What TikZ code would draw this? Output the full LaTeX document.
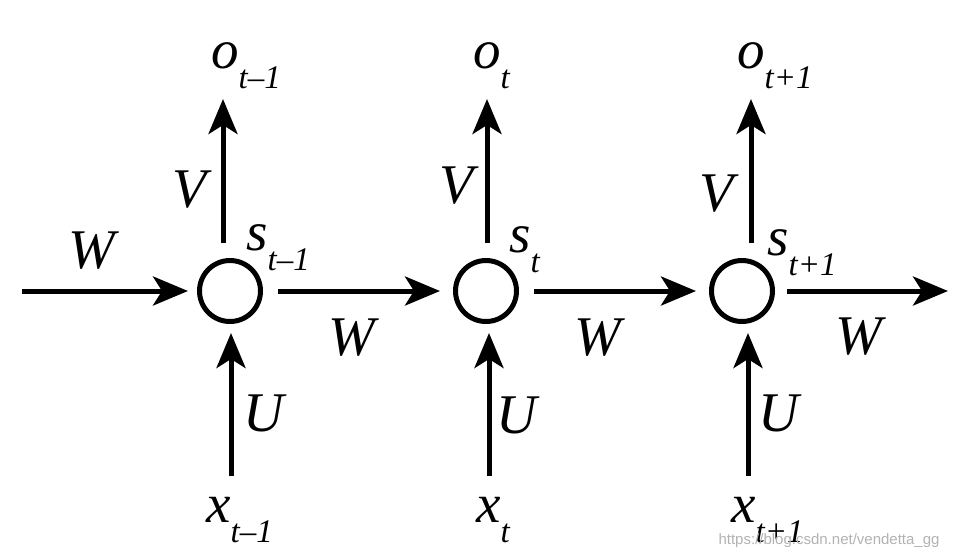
\documentclass[tikz,border=0pt]{standalone}
\usepackage{fontspec}
\setmainfont{Liberation Serif}
\newfontfamily\wmfont{Liberation Sans}
\usetikzlibrary{arrows.meta,calc}
\newcommand\lab[2]{\fontsize{55}{55}\selectfont\itshape #1\raisebox{-20pt}{\fontsize{33}{33}\selectfont\itshape #2}}
\tikzset{
  arr/.style={line width=5pt,-{Stealth[length=35pt,width=29pt,inset=9pt]}},
  cell/.style={circle,draw,line width=5pt,minimum size=61pt,inner sep=0pt},
  big/.style={inner sep=0pt,font=\fontsize{56}{56}\selectfont\itshape},
  sub/.style={inner sep=0pt,anchor=base west},
}
\begin{document}
\begin{tikzpicture}[x=1pt,y=-1pt]
\useasboundingbox (0,0) rectangle (953,558);
% cells
\node[cell] (s1) at (230,291) {};
\node[cell] (s2) at (486,291) {};
\node[cell] (s3) at (742,291) {};
% state labels
\node[sub] (ls1) at (246,250) {\lab{s}{t–1}};
\node[sub] (ls2) at (509,252) {\lab{s}{t}};
\node[sub] (ls3) at (767,255) {\lab{s}{t+1}};
% outputs
\node[sub] (o1) at (211,68) {\lab{o}{t–1}};
\node[sub] (o2) at (473,68) {\lab{o}{t}};
\node[sub] (o3) at (737,68) {\lab{o}{t+1}};
% inputs
\node[sub] (x1) at (206,522) {\lab{x}{t–1}};
\node[sub] (x2) at (476,522) {\lab{x}{t}};
\node[sub] (x3) at (731,522) {\lab{x}{t+1}};
% weight labels
\node[big] (w0) at (92,251) {W};
\node[big] (w1) at (352,338) {W};
\node[big] (w2) at (598,338) {W};
\node[big] (w3) at (859,337) {W};
\node[big] (v1) at (190,190) {V};
\node[big] (v2) at (457,186) {V};
\node[big] (v3) at (717,194) {V};
\node[big] (u1) at (264,413) {U};
\node[big] (u2) at (517,415) {U};
\node[big] (u3) at (779,413) {U};
% free ends
\coordinate (hin) at (22,291);
\coordinate (hout) at (948,291);
% horizontal arrows
\draw[arr,shorten >=9pt] (hin) -- (s1);
\draw[arr,shorten <=15pt,shorten >=13pt] (s1) -- (s2);
\draw[arr,shorten <=15pt,shorten >=13pt] (s2) -- (s3);
\draw[arr,shorten <=12pt] (s3) -- (hout);
% input arrows
\draw[arr] ($(s1.south)+(1,152)$) -- ($(s1.south)+(1,9)$);
\draw[arr] ($(s2.south)+(3,152)$) -- ($(s2.south)+(3,9)$);
\draw[arr] ($(s3.south)+(6,152)$) -- ($(s3.south)+(6,9)$);
% output arrows
\draw[arr] ($(s1.north)+(-7,-15)$) -- ($(s1.north)+(-7,-159)$);
\draw[arr] ($(s2.north)+(1,-15)$) -- ($(s2.north)+(1,-159)$);
\draw[arr] ($(s3.north)+(9,-15)$) -- ($(s3.north)+(9,-159)$);
% watermark
\node[inner sep=0pt,text=black!30,font=\wmfont\fontsize{15}{15}\selectfont] (wm) at (829,541) {https://blog.csdn.net/vendetta\_gg};
\end{tikzpicture}
\end{document}
